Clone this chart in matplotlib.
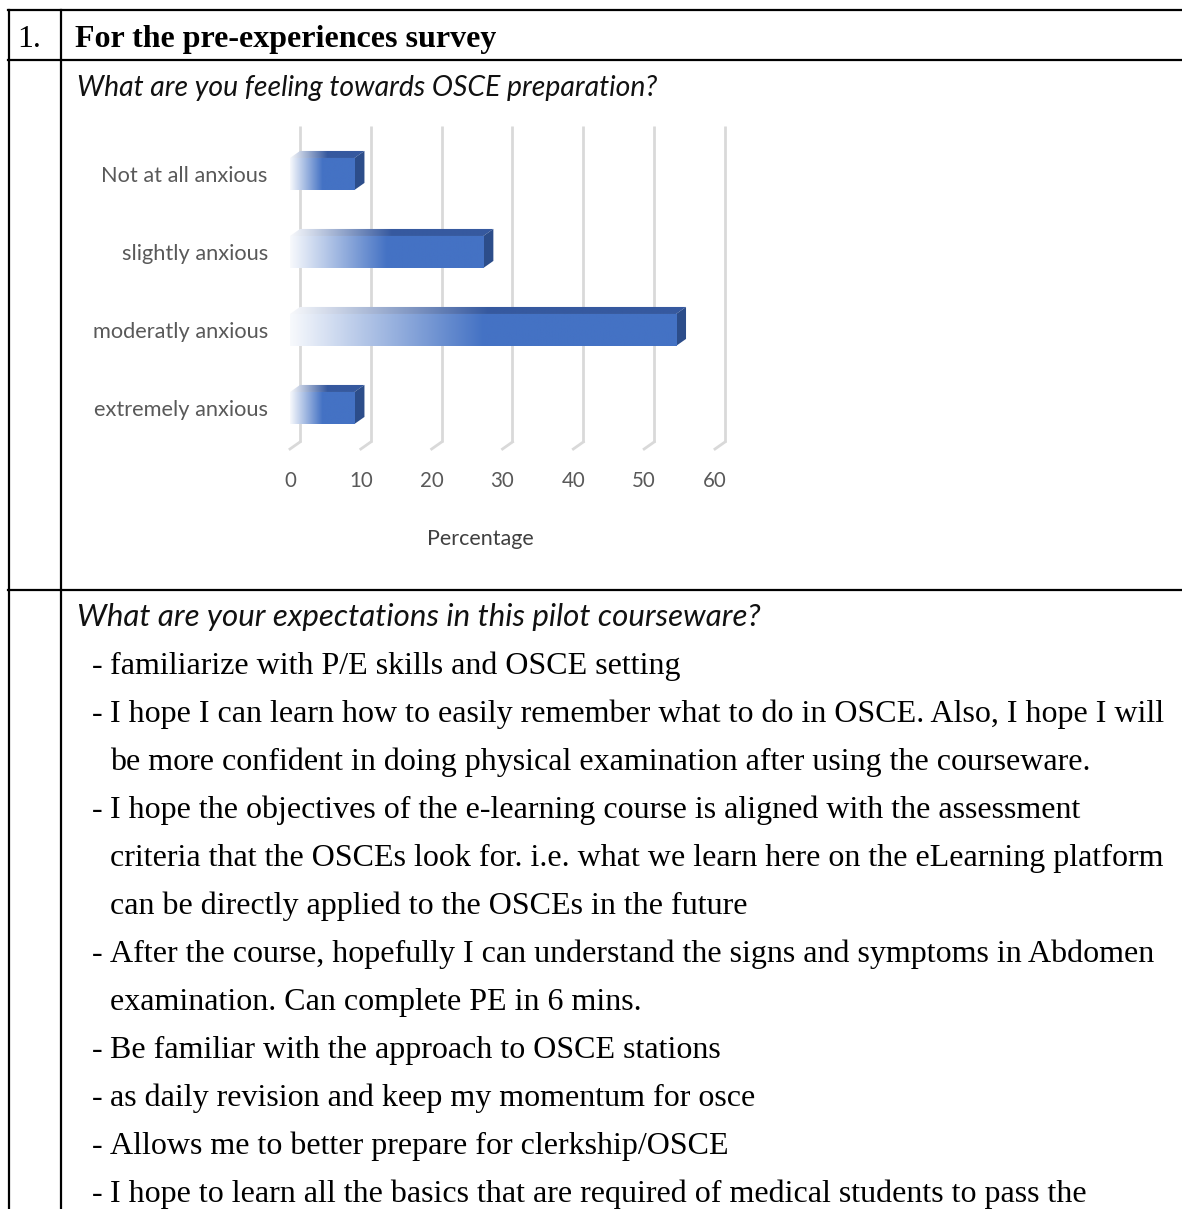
import numpy as np
import matplotlib.pyplot as plt
from matplotlib.lines import Line2D
from matplotlib.patches import Polygon

# chart data
categories = ['Not at all anxious', 'slightly anxious', 'moderatly anxious', 'extremely anxious']
percent = [9.1, 27.3, 54.5, 9.1]
x_ticks = [0, 10, 20, 30, 40, 50, 60]
x_label = 'Percentage'

# document text
row_no = '1.'
title = 'For the pre-experiences survey'
question1 = 'What are you feeling towards OSCE preparation?'
question2 = 'What are your expectations in this pilot courseware?'
answers = [
    '- familiarize with P/E skills and OSCE setting',
    '- I hope I can learn how to easily remember what to do in OSCE. Also, I hope I will',
    'be more confident in doing physical examination after using the courseware.',
    '- I hope the objectives of the e-learning course is aligned with the assessment',
    'criteria that the OSCEs look for. i.e. what we learn here on the eLearning platform',
    'can be directly applied to the OSCEs in the future',
    '- After the course, hopefully I can understand the signs and symptoms in Abdomen',
    'examination. Can complete PE in 6 mins.',
    '- Be familiar with the approach to OSCE stations',
    '- as daily revision and keep my momentum for osce',
    '- Allows me to better prepare for clerkship/OSCE',
    '- I hope to learn all the basics that are required of medical students to pass the',
]

W, H = 1182, 1209
fig = plt.figure(figsize=(W / 100, H / 100), dpi=100)


def fx(x):
    return x / W


def fy(y):
    return 1 - y / H


# table borders
for x0, y0, x1, y1 in [(8, 10, W, 10), (8, 60, W, 60), (8, 590, W, 590),
                       (8.5, 10, 8.5, H), (61, 10, 61, H)]:
    fig.add_artist(Line2D([fx(x0), fx(x1)], [fy(y0), fy(y1)], color='black', lw=1.6))

serif = ['Liberation Serif', 'DejaVu Serif']
fig.text(fx(17), fy(47), row_no, family=serif, fontsize=23, va='baseline')
fig.text(fx(75), fy(47), title, family=serif, fontsize=23, weight='bold', va='baseline')
fig.text(fx(77), fy(96), question1, family=['Lato', 'DejaVu Sans'], style='italic',
         fontsize=20.4, va='baseline', color='#111111')
fig.text(fx(77), fy(626), question2, family=['Lato', 'DejaVu Sans'], style='italic',
         fontsize=22.5, va='baseline', color='#111111')

y = 674
for line in answers:
    if line.startswith('- '):
        fig.text(fx(92), fy(y), '-', family=serif, fontsize=23, va='baseline')
        line = line[2:]
    fig.text(fx(110), fy(y), line, family=serif, fontsize=23, va='baseline')
    y += 48

# chart
ax = fig.add_axes([fx(290), fy(449), 425 / W, 323 / H])
ax.set_xlim(0, 60)
ylim = (3.526, -0.615)
ax.set_ylim(*ylim)
for s in ax.spines.values():
    s.set_visible(False)

DX, DY = 1.41, 0.09     # depth of the 3d effect, data units
bar_h = 0.41
ypos = np.arange(len(categories))

# back wall grid + floor
for t in x_ticks:
    ax.plot([t + DX, t + DX], [ylim[1], ylim[0] - DY], color='#d9d9d9', lw=2,
            clip_on=False, zorder=0, solid_capstyle='butt')
    ax.plot([t + DX, t], [ylim[0] - DY, ylim[0]], color='#d9d9d9', lw=2,
            clip_on=False, zorder=0)


def gradient(color, n=256, span=0.5, start=0.04):
    f = np.clip(np.linspace(0, 1, n) / span, 0, 1)
    f = start + (1 - start) * f
    c = np.array(plt.matplotlib.colors.to_rgb(color))
    rgb = (1 - f)[:, None] * 1.0 + f[:, None] * c[None, :]
    return rgb[None, :, :]


bars = ax.barh(ypos, percent, height=bar_h, color='none', zorder=2)
for bar, v, yc in zip(bars, percent, ypos):
    top, bot = yc - bar_h / 2, yc + bar_h / 2
    # top face
    tp = Polygon([(0, top), (v, top), (v + DX, top - DY), (DX, top - DY)],
                 closed=True, facecolor='none', edgecolor='none')
    ax.add_patch(tp)
    im = ax.imshow(gradient('#36599f'), extent=[0, v + DX, top, top - DY],
                   aspect='auto', zorder=2, interpolation='bilinear')
    im.set_clip_path(tp)
    # side face
    ax.add_patch(Polygon([(v, top), (v + DX, top - DY), (v + DX, bot - DY), (v, bot)],
                         closed=True, facecolor='#2c4d8a', edgecolor='none', zorder=2))
    # front face
    im = ax.imshow(gradient('#4472c4'), extent=[0, v, bot, top],
                   aspect='auto', zorder=3, interpolation='bilinear')
    im.set_clip_path(bar)

ax.set_xlim(0, 60)
ax.set_ylim(*ylim)

lab_font = ['Lato', 'DejaVu Sans']
ax.set_xticks(x_ticks)
ax.set_xticklabels([str(t) for t in x_ticks], family=lab_font, fontsize=14.8, color='#595959')
ax.set_yticks(ypos)
ax.set_yticklabels(categories, family=lab_font, fontsize=15.7, color='#595959')
ax.tick_params(axis='x', length=0, pad=16)
ax.tick_params(axis='y', length=0, pad=16)
ax.set_xlabel(x_label, family=lab_font, fontsize=15.5, color='#404040', va='center')
ax.xaxis.set_label_coords((480 - 290) / 425, -(539 - 449) / 323)

fig.savefig('out.png', dpi=100)
